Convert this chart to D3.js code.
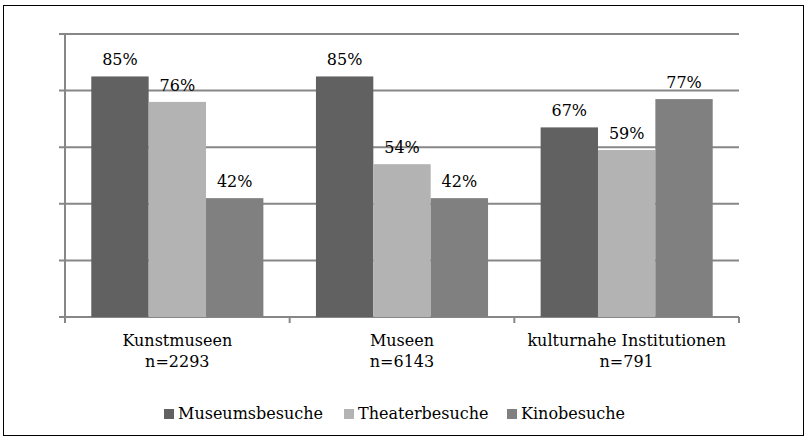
<!DOCTYPE html>
<html><head><meta charset="utf-8">
<script src="https://cdn.jsdelivr.net/npm/d3@7"></script>
<style>body{margin:0;background:#fff}svg{display:block}text{font-family:"DejaVu Serif",Georgia,serif;fill:#000}</style>
</head><body><svg id="c" width="807" height="439"></svg>
<script>
const categories = ["Kunstmuseen", "Museen", "kulturnahe Institutionen"];
const sampleSizes = ["n=2293", "n=6143", "n=791"];
const seriesNames = ["Museumsbesuche", "Theaterbesuche", "Kinobesuche"];
const museumsbesuche = [85, 85, 67];
const theaterbesuche = [76, 54, 59];
const kinobesuche = [42, 42, 77];
const yTicks = [0, 20, 40, 60, 80, 100];
const colors = ["#616161", "#b3b3b3", "#808080"];

const seriesValues = [museumsbesuche, theaterbesuche, kinobesuche];
const svg = d3.select("#c");
const fs = 16;

svg.append("rect").attr("x", 3.5).attr("y", 5.5).attr("width", 800).attr("height", 430)
  .attr("fill", "none").attr("stroke", "#000").attr("stroke-width", 1);

const x0 = d3.scaleBand().domain(categories).range([65, 739]).paddingInner(0).paddingOuter(0);
const groupW = x0.bandwidth() * 0.766;
const x1 = d3.scaleBand().domain(seriesNames).range([0, groupW]).padding(0);
const y = d3.scaleLinear().domain([0, 100]).range([317, 34]);

// gridlines
svg.append("g").selectAll("line").data(yTicks).join("line")
  .attr("x1", 59).attr("x2", 739)
  .attr("y1", d => y(d)).attr("y2", d => y(d))
  .attr("stroke", "#878787").attr("stroke-width", 2);
// y axis line
svg.append("line").attr("x1", 65).attr("x2", 65).attr("y1", y(100) - 1).attr("y2", y(0))
  .attr("stroke", "#878787").attr("stroke-width", 2);
// x ticks
const xTickPos = categories.map(c => x0(c)).concat([x0.range()[1]]);
svg.append("g").selectAll("line").data(xTickPos).join("line")
  .attr("x1", d => d).attr("x2", d => d).attr("y1", y(0)).attr("y2", y(0) + 6)
  .attr("stroke", "#878787").attr("stroke-width", 2);

// bars
const groups = svg.append("g").selectAll("g").data(categories).join("g")
  .attr("transform", c => `translate(${x0(c) + (x0.bandwidth() - groupW) / 2},0)`);
groups.each(function(c, ci) {
  const g = d3.select(this);
  const data = seriesNames.map((s, si) => ({s, si, v: seriesValues[si][ci]}));
  g.selectAll("rect").data(data).join("rect")
    .attr("x", d => x1(d.s)).attr("width", x1.bandwidth())
    .attr("y", d => y(d.v)).attr("height", d => y(0) - y(d.v))
    .attr("fill", d => colors[d.si]);
  g.selectAll("text").data(data).join("text")
    .attr("x", d => x1(d.s) + x1.bandwidth() / 2).attr("y", d => y(d.v) - 11)
    .attr("text-anchor", "middle").attr("font-size", fs)
    .text(d => d.v + "%");
});

// category labels
const catG = svg.append("g").selectAll("text").data(categories).join("text")
  .attr("x", c => x0(c) + x0.bandwidth() / 2).attr("y", 346)
  .attr("text-anchor", "middle").attr("font-size", fs);
catG.append("tspan").text(c => c);
catG.append("tspan").attr("x", c => x0(c) + x0.bandwidth() / 2).attr("dy", 21)
  .text((c, i) => sampleSizes[i]);

// legend
const legendX = [164, 344, 507];
const lg = svg.append("g").selectAll("g").data(seriesNames).join("g")
  .attr("transform", (d, i) => `translate(${legendX[i]},409)`);
lg.append("rect").attr("width", 10).attr("height", 10).attr("fill", (d, i) => colors[i]);
lg.append("text").attr("x", 14).attr("y", 10).attr("font-size", fs).text(d => d);
</script></body></html>
